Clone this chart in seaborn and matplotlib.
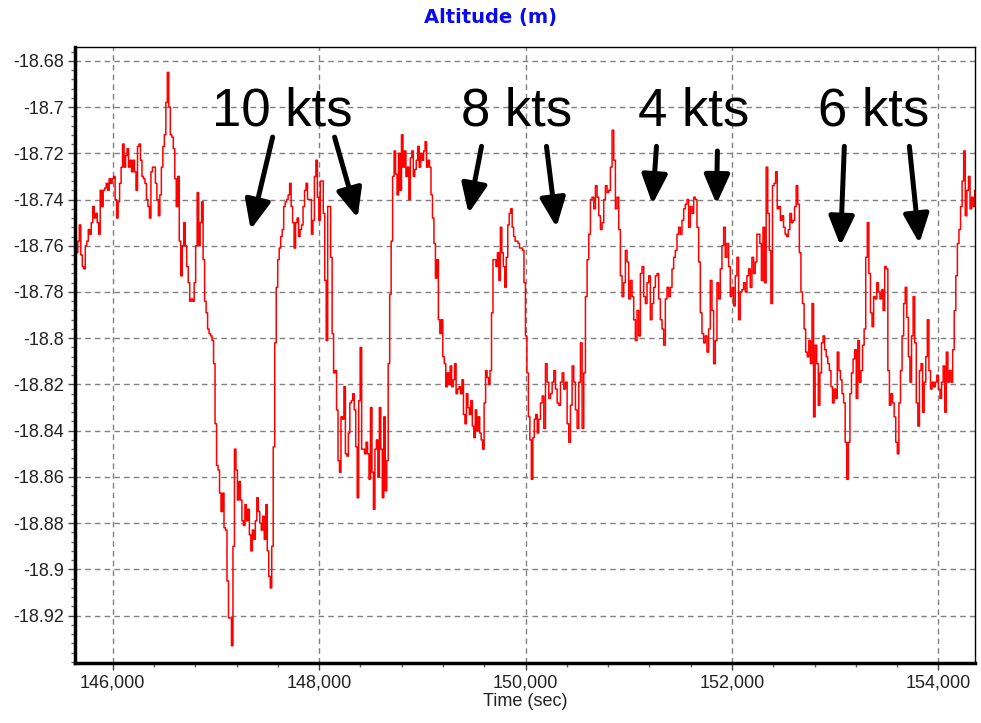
import numpy as np
import pandas as pd
import matplotlib
matplotlib.use("Agg")
import matplotlib.pyplot as plt
from matplotlib.ticker import MultipleLocator, FuncFormatter
import seaborn as sns

# altitude trace in four stretches (time in sec)
seg_a_span = (145648, 147888)
seg_a = [-18.763, -18.758, -18.751, -18.764, -18.769, -18.770, -18.760, -18.758, -18.753, -18.755,
         -18.750, -18.743, -18.748, -18.746, -18.750, -18.755, -18.736, -18.743, -18.736, -18.735,
         -18.733, -18.736, -18.731, -18.733, -18.731, -18.730, -18.740, -18.748, -18.741, -18.733,
         -18.726, -18.716, -18.726, -18.721, -18.718, -18.726, -18.723, -18.728, -18.723, -18.728,
         -18.736, -18.717, -18.716, -18.723, -18.730, -18.731, -18.733, -18.740, -18.743, -18.748,
         -18.728, -18.726, -18.726, -18.733, -18.740, -18.747, -18.738, -18.726, -18.717, -18.712,
         -18.698, -18.685, -18.700, -18.712, -18.713, -18.718, -18.731, -18.743, -18.730, -18.758,
         -18.773, -18.760, -18.750, -18.760, -18.769, -18.776, -18.784, -18.783, -18.784, -18.776,
         -18.760, -18.737, -18.760, -18.750, -18.741, -18.766, -18.784, -18.789, -18.796, -18.798,
         -18.799, -18.801, -18.811, -18.837, -18.855, -18.857, -18.867, -18.875, -18.867, -18.882,
         -18.883, -18.905, -18.921, -18.921, -18.933, -18.890, -18.848, -18.857, -18.870, -18.862,
         -18.870, -18.879, -18.881, -18.872, -18.879, -18.874, -18.885, -18.892, -18.883, -18.887,
         -18.879, -18.869, -18.875, -18.880, -18.883, -18.877, -18.887, -18.872, -18.892, -18.903,
         -18.908, -18.890, -18.847, -18.802, -18.778, -18.766, -18.761, -18.756, -18.753, -18.743,
         -18.741, -18.740, -18.738, -18.733, -18.743, -18.750, -18.761, -18.750, -18.748, -18.756,
         -18.753, -18.751, -18.743, -18.736, -18.733, -18.740]

seg_b_span = (147926, 150128)
seg_b = [-18.755, -18.749, -18.730, -18.723, -18.739, -18.749, -18.732, -18.732, -18.746, -18.775,
         -18.801, -18.743, -18.743, -18.765, -18.798, -18.815, -18.814, -18.831, -18.853, -18.858,
         -18.834, -18.835, -18.821, -18.850, -18.851, -18.841, -18.828, -18.827, -18.824, -18.831,
         -18.847, -18.869, -18.827, -18.804, -18.848, -18.848, -18.850, -18.845, -18.850, -18.861,
         -18.830, -18.858, -18.874, -18.848, -18.844, -18.860, -18.830, -18.848, -18.869, -18.834,
         -18.866, -18.853, -18.811, -18.781, -18.758, -18.730, -18.719, -18.729, -18.738, -18.720,
         -18.736, -18.712, -18.726, -18.719, -18.730, -18.726, -18.740, -18.722, -18.719, -18.730,
         -18.727, -18.723, -18.717, -18.726, -18.720, -18.723, -18.719, -18.715, -18.726, -18.723,
         -18.726, -18.738, -18.748, -18.759, -18.774, -18.766, -18.792, -18.798, -18.792, -18.808,
         -18.811, -18.821, -18.815, -18.820, -18.812, -18.821, -18.818, -18.811, -18.824, -18.822,
         -18.821, -18.824, -18.818, -18.833, -18.837, -18.824, -18.830, -18.833, -18.827, -18.838,
         -18.843, -18.831, -18.840, -18.834, -18.841, -18.844, -18.848, -18.828, -18.814, -18.817,
         -18.820, -18.814, -18.789, -18.766, -18.766, -18.769, -18.763, -18.775, -18.752, -18.763,
         -18.769, -18.778, -18.765, -18.751, -18.746, -18.744, -18.752, -18.756, -18.758, -18.758,
         -18.759, -18.761, -18.761, -18.762, -18.776, -18.799, -18.815, -18.834, -18.844, -18.861,
         -18.843, -18.835, -18.833, -18.841, -18.835]

seg_c_span = (150145, 152242)
seg_c = [-18.828, -18.825, -18.839, -18.811, -18.819, -18.826, -18.824, -18.819, -18.814, -18.822,
         -18.828, -18.829, -18.819, -18.815, -18.822, -18.819, -18.837, -18.845, -18.829, -18.812,
         -18.819, -18.831, -18.839, -18.819, -18.802, -18.839, -18.815, -18.782, -18.766, -18.755,
         -18.740, -18.739, -18.744, -18.734, -18.739, -18.747, -18.753, -18.750, -18.740, -18.734,
         -18.737, -18.736, -18.726, -18.710, -18.723, -18.744, -18.739, -18.753, -18.773, -18.782,
         -18.776, -18.762, -18.767, -18.783, -18.775, -18.782, -18.792, -18.801, -18.788, -18.799,
         -18.772, -18.769, -18.782, -18.785, -18.776, -18.773, -18.792, -18.785, -18.778, -18.773,
         -18.772, -18.783, -18.792, -18.796, -18.803, -18.783, -18.778, -18.782, -18.778, -18.770,
         -18.765, -18.762, -18.755, -18.752, -18.755, -18.749, -18.744, -18.742, -18.740, -18.752,
         -18.743, -18.746, -18.739, -18.740, -18.752, -18.767, -18.789, -18.798, -18.802, -18.799,
         -18.806, -18.796, -18.775, -18.788, -18.811, -18.801, -18.776, -18.783, -18.770, -18.760,
         -18.752, -18.765, -18.759, -18.769, -18.782, -18.778, -18.786, -18.773, -18.765, -18.792,
         -18.780, -18.779, -18.776, -18.780, -18.773, -18.770, -18.778, -18.765, -18.772, -18.767,
         -18.755]

seg_d_span = (152255, 154368)
seg_d = [-18.755, -18.759, -18.775, -18.752, -18.776, -18.726, -18.746, -18.762, -18.785, -18.734,
         -18.733, -18.728, -18.744, -18.743, -18.749, -18.747, -18.752, -18.755, -18.756, -18.753,
         -18.746, -18.750, -18.749, -18.743, -18.734, -18.742, -18.763, -18.780, -18.785, -18.796,
         -18.806, -18.808, -18.801, -18.811, -18.785, -18.834, -18.803, -18.811, -18.829, -18.815,
         -18.802, -18.799, -18.805, -18.808, -18.811, -18.814, -18.821, -18.828, -18.822, -18.826,
         -18.806, -18.814, -18.818, -18.824, -18.828, -18.845, -18.861, -18.845, -18.824, -18.815,
         -18.809, -18.805, -18.826, -18.801, -18.819, -18.814, -18.803, -18.796, -18.765, -18.750,
         -18.772, -18.789, -18.795, -18.782, -18.783, -18.776, -18.780, -18.783, -18.779, -18.788,
         -18.769, -18.770, -18.814, -18.829, -18.824, -18.828, -18.834, -18.845, -18.850, -18.828,
         -18.814, -18.799, -18.785, -18.778, -18.791, -18.808, -18.819, -18.799, -18.782, -18.802,
         -18.828, -18.838, -18.814, -18.811, -18.832, -18.819, -18.808, -18.792, -18.814, -18.822,
         -18.819, -18.821, -18.819, -18.816, -18.822, -18.826, -18.819, -18.812, -18.832, -18.806,
         -18.819, -18.814, -18.819, -18.805, -18.788, -18.773, -18.759, -18.753, -18.743, -18.732,
         -18.719, -18.747, -18.736, -18.730, -18.744, -18.739, -18.743, -18.736, -18.740]

# wind speed labels and their arrows: (label, text x, [(tail x, tail y, tip x, tip y), ...])
speed_labels = ["10 kts", "8 kts", "4 kts", "6 kts"]
label_x = [147646, 149913, 151627, 153370]
label_y = -18.708
arrows = [
    [(147550, -18.713, 147337, -18.753), (148150, -18.713, 148373, -18.748)],
    [(149574, -18.717, 149448, -18.746), (150203, -18.717, 150300, -18.752)],
    [(151269, -18.717, 151230, -18.742), (151859, -18.719, 151850, -18.742)],
    [(153089, -18.717, 153051, -18.760), (153719, -18.717, 153816, -18.759)],
]

y_ticks = [-18.68, -18.70, -18.72, -18.74, -18.76, -18.78, -18.80,
           -18.82, -18.84, -18.86, -18.88, -18.90, -18.92]
x_ticks = [146000, 148000, 150000, 152000, 154000]

times, values = [], []
for span, seg in [(seg_a_span, seg_a), (seg_b_span, seg_b), (seg_c_span, seg_c), (seg_d_span, seg_d)]:
    times.append(np.linspace(span[0], span[1], len(seg)))
    values.append(np.array(seg))
df = pd.DataFrame({"time": np.concatenate(times), "alt": np.concatenate(values)})

sns.set_theme(style="white")
plt.rcParams["font.family"] = ["Liberation Sans", "DejaVu Sans"]

fig = plt.figure(figsize=(9.81, 7.23), dpi=100)
ax = fig.add_axes([75 / 981, 60 / 723, 900 / 981, 616.5 / 723])

sns.lineplot(data=df, x="time", y="alt", ax=ax, color="#ff0000", linewidth=1.1,
             drawstyle="steps-post", estimator=None, sort=False)

ax.set_xlim(145635, 154355)
ax.set_ylim(-18.9405, -18.6738)
ax.set_xticks(x_ticks)
ax.set_yticks(y_ticks)
ax.xaxis.set_major_formatter(FuncFormatter(lambda v, p: f"{int(round(v)):,}"))
ax.yaxis.set_major_formatter(FuncFormatter(lambda v, p: f"{round(v, 2):g}"))
ax.xaxis.set_minor_locator(MultipleLocator(400))
ax.yaxis.set_minor_locator(MultipleLocator(0.004))
ax.tick_params(axis="both", which="major", length=5, width=1, color="#444444",
               direction="out", labelsize=13, labelcolor="#222222", pad=3,
               bottom=True, left=True)
ax.tick_params(axis="both", which="minor", length=3, width=1, color="#666666",
               direction="out", bottom=True, left=True)

ax.grid(True, which="major", color="#808080", linestyle=(0, (4, 3)), linewidth=1)
ax.set_axisbelow(True)

for side in ["left", "bottom"]:
    ax.spines[side].set_linewidth(2.5)
    ax.spines[side].set_color("black")
for side in ["top", "right"]:
    ax.spines[side].set_linewidth(1)
    ax.spines[side].set_color("black")

ax.set_xlabel("Time (sec)", fontsize=13, color="#222222", labelpad=1)
ax.set_ylabel("")

fig.text(0.5, 1 - 18 / 723, "Altitude (m)", ha="center", va="center", fontsize=14,
         fontweight="bold", color="#0a0af0", family="DejaVu Sans")

for label, lx, arrow_set in zip(speed_labels, label_x, arrows):
    ax.text(lx, label_y, label, ha="center", va="baseline", fontsize=38, color="black")
    for tx, ty, hx, hy in arrow_set:
        ax.annotate("", xy=(hx, hy), xytext=(tx, ty),
                    arrowprops=dict(arrowstyle="-|>,head_length=0.8,head_width=0.35",
                                    mutation_scale=22, lw=3.6, color="black",
                                    shrinkA=0, shrinkB=0))

fig.savefig("out.png", dpi=100)
